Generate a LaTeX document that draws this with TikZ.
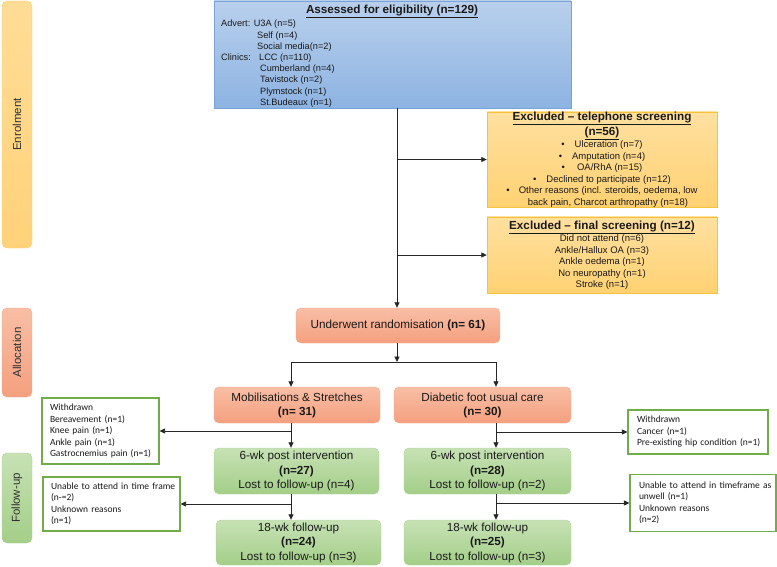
\documentclass[tikz,border=0pt]{standalone}
\usepackage{fontspec}
\setmainfont{Liberation Sans}
\newfontfamily\calib{Carlito}
\usetikzlibrary{arrows.meta,calc}
\definecolor{goldD}{HTML}{F5C33B}
\definecolor{goldT}{HTML}{FFE0A0}
\definecolor{goldB}{HTML}{FFD172}
\definecolor{enrD}{HTML}{F7D36B}
\definecolor{enrT}{HTML}{FFDC96}
\definecolor{enrB}{HTML}{FFD27A}
\definecolor{blueD}{HTML}{7AA2D6}
\definecolor{blueT}{HTML}{B9D0EC}
\definecolor{blueB}{HTML}{8DB3E2}
\definecolor{orD}{HTML}{F2A888}
\definecolor{orT}{HTML}{F9BEA5}
\definecolor{orB}{HTML}{F4A07F}
\definecolor{grD}{HTML}{A9D18E}
\definecolor{grT}{HTML}{C7E2B5}
\definecolor{grB}{HTML}{A3CE88}
\definecolor{grn}{HTML}{70AD47}
\definecolor{lin}{HTML}{262626}
\definecolor{txt}{HTML}{1A1A1A}
\begin{document}
\begin{tikzpicture}[x=1pt,y=-1pt,
  phase/.style={rounded corners=5pt, inner sep=0pt, text=txt!90, font=\fontsize{11.5}{13}\selectfont, rotate=90},
  enrphase/.style={phase, draw=enrD, top color=enrT, bottom color=enrB},
  orphase/.style={phase, draw=orD, top color=orT, bottom color=orB},
  grphase/.style={phase, draw=grD, top color=grT, bottom color=grB},
  box/.style={rounded corners=5pt, inner sep=0pt, align=center, text=txt},
  obox/.style={box, draw=orD, top color=orT, bottom color=orB, font=\fontsize{11.7}{14}\selectfont},
  gbox/.style={box, draw=grD, top color=grT, bottom color=grB, font=\fontsize{11.7}{14.5}\selectfont},
  ybox/.style={draw=goldD, top color=goldT, bottom color=goldB, align=center, inner sep=0pt, text=txt, font=\fontsize{9.5}{11.5}\selectfont},
  wbox/.style={draw=grn, line width=1.1pt, fill=white, align=left, inner xsep=8pt, inner ysep=0pt, text=txt, font=\calib\fontsize{9.5}{11.5}\selectfont},
  ttl/.style={font=\bfseries\fontsize{11.7}{13}\selectfont},
  ln/.style={draw=lin, line width=0.8pt},
  arr/.style={ln, -{Triangle[length=5.5pt,width=5pt]}}
]
\useasboundingbox (0,0) rectangle (777,567);

% phase bars
\node[enrphase, minimum width=247pt, minimum height=30pt] (enrol) at (17,124.5) {Enrolment};
\node[orphase, minimum width=89pt, minimum height=30pt] (alloc) at (17,352.5) {Allocation};
\node[grphase, minimum width=90pt, minimum height=30pt] (follow) at (17,498) {Follow-up};

% assessed
\node[draw=blueD, top color=blueT, bottom color=blueB, minimum width=357pt, minimum height=107pt, inner sep=0pt] (assess) at (392.5,54.5) {};
\node[ttl, anchor=base, inner sep=0pt, text=txt] (assesst) at (392,13.5) {\underline{Assessed for eligibility (n=129)}};
\node[anchor=north west, align=left, inner sep=0pt, text=txt, font=\fontsize{9.2}{11.2}\selectfont] (srcs) at (221,20)
 {Advert: U3A (n=5)\\
  \hspace*{36pt}Self (n=4)\\
  \hspace*{36pt}Social media(n=2)\\
  \makebox[38pt][l]{Clinics:}LCC (n=110)\\
  \hspace*{39pt}Cumberland (n=4)\\
  \hspace*{39pt}Tavistock (n=2)\\
  \hspace*{39pt}Plymstock (n=1)\\
  \hspace*{39pt}St.Budeaux (n=1)};

% exclusions
\node[ybox, minimum width=230pt, minimum height=95pt] (tele) at (602,159.5)
 {{\bfseries\fontsize{11.7}{13}\selectfont\underline{Excluded – telephone screening}}\\[1.5pt]
  {\bfseries\fontsize{11.7}{13}\selectfont\underline{(n=56)}}\\[0.5pt]
  •\hspace{10pt}Ulceration (n=7)\\
  •\hspace{10pt}Amputation (n=4)\\
  •\hspace{12pt}OA/RhA (n=15)\\
  •\hspace{10pt}Declined to participate (n=12)\\
  •\hspace{9pt}Other reasons (incl. steroids, oedema, low\\
  \hspace*{12pt}back pain, Charcot arthropathy (n=18)};
\node[ybox, minimum width=230pt, minimum height=76pt] (final) at (602,255)
 {{\bfseries\fontsize{11.7}{13}\selectfont\underline{Excluded – final screening (n=12)}}\\[1pt]
  Did not attend (n=6)\\
  Ankle/Hallux OA (n=3)\\
  Ankle oedema (n=1)\\
  No neuropathy (n=1)\\
  Stroke (n=1)};

% randomisation and arms
\node[obox, minimum width=204pt, minimum height=35pt] (random) at (398,325.5) {Underwent randomisation \textbf{(n= 61)}};
\node[obox, minimum width=166pt, minimum height=36pt] (mobil) at (297,405) {Mobilisations \& Stretches\\\textbf{(n= 31)}};
\node[obox, minimum width=177pt, minimum height=36pt] (diab) at (482.5,405) {Diabetic foot usual care\\\textbf{(n= 30)}};
\node[gbox, minimum width=165pt, minimum height=46pt] (wk6l) at (296.5,471) {6-wk post intervention\\\textbf{(n=27)}\\Lost to follow-up (n=4)};
\node[gbox, minimum width=167pt, minimum height=46pt] (wk6r) at (487.5,471) {6-wk post intervention\\\textbf{(n=28)}\\Lost to follow-up (n=2)};
\node[gbox, minimum width=165pt, minimum height=45pt] (wk18l) at (298.5,542.5) {18-wk follow-up\\\textbf{(n=24)}\\Lost to follow-up (n=3)};
\node[gbox, minimum width=167pt, minimum height=45pt] (wk18r) at (487.5,542.5) {18-wk follow-up\\\textbf{(n=25)}\\Lost to follow-up (n=3)};

% withdrawal boxes
\node[wbox, minimum width=117pt, minimum height=66pt, text width=101pt] (wdl) at (100.5,431)
 {Withdrawn\\Bereavement (n=1)\\Knee pain (n=1)\\Ankle pain (n=1)\\\mbox{Gastrocnemius pain (n=1)}};
\node[wbox, minimum width=137pt, minimum height=54pt, text width=121pt] (unl) at (111.5,504)
 {\mbox{Unable to attend in time frame}\\(n-=2)\\Unknown reasons\\(n=1)};
\node[wbox, minimum width=140pt, minimum height=44pt, text width=122pt, inner xsep=9pt] (wdr) at (698,432)
 {Withdrawn\\Cancer (n=1)\\\mbox{Pre-existing hip condition (n=1)}};
\node[wbox, minimum width=146pt, minimum height=57pt, text width=128pt, inner xsep=9pt] (unr) at (703,503)
 {\mbox{Unable to attend in timeframe as}\\unwell (n=1)\\Unknown reasons\\(n=2)};

% connectors
\coordinate (trunk) at (397,108);
\coordinate (split) at (397,362);
\coordinate (splitL) at (291,362);
\coordinate (splitR) at (496,362);
\draw[arr] (trunk) -- (trunk |- random.north);
\draw[arr] (trunk |- tele.west) -- (tele.west);
\draw[arr] (trunk |- final.west) -- (final.west);
\draw[arr] (trunk |- random.south) -- (split);
\draw[ln] (splitL) -- (splitR);
\draw[arr] (splitL) -- (splitL |- mobil.north);
\draw[arr] (splitR) -- (splitR |- diab.north);
\draw[arr] (splitL |- mobil.south) -- (splitL |- wk6l.north);
\draw[arr] (splitL |- wdl.east) -- (wdl.east);
\draw[arr] (splitL |- wk6l.south) -- (splitL |- wk18l.north);
\draw[arr] (splitL |- unl.east) -- (unl.east);
\draw[arr] (splitR |- diab.south) -- (splitR |- wk6r.north);
\draw[arr] (splitR |- wdr.west) -- (wdr.west);
\draw[arr] (splitR |- wk6r.south) -- (splitR |- wk18r.north);
\draw[arr] (splitR |- unr.west) -- (unr.west);
\end{tikzpicture}
\end{document}
